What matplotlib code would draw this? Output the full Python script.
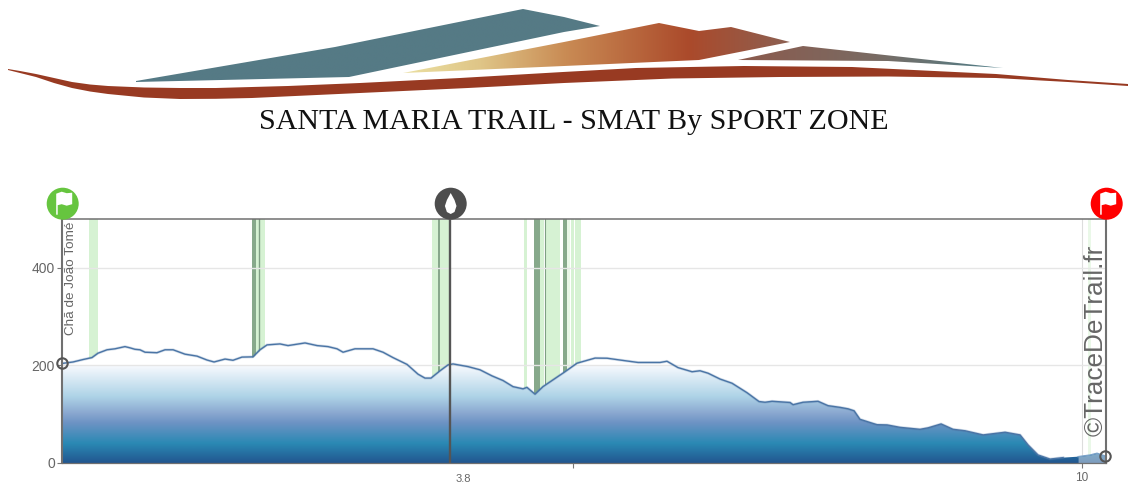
import matplotlib

matplotlib.use("Agg")
import matplotlib.pyplot as plt
import numpy as np
from matplotlib.colors import LinearSegmentedColormap
from matplotlib.patches import Circle, Polygon
from matplotlib.transforms import ScaledTranslation

plt.rcParams["font.family"] = ["Liberation Sans", "DejaVu Sans"]

# profile
distance_km = [
    0.0, 0.108, 0.206, 0.294, 0.353, 0.442, 0.52, 0.618, 0.667, 0.716, 0.765, 0.815,
    0.932, 1.011, 1.09, 1.207, 1.325, 1.423, 1.492, 1.6, 1.678, 1.766, 1.874, 1.943,
    2.012, 2.139, 2.218, 2.385, 2.503, 2.61, 2.699, 2.758, 2.875, 3.052, 3.15, 3.248,
    3.386, 3.494, 3.562, 3.621, 3.71, 3.788, 3.837, 3.984, 4.102, 4.22, 4.328, 4.426,
    4.524, 4.563, 4.642, 4.72, 4.936, 5.054, 5.231, 5.349, 5.476, 5.653, 5.869, 5.937,
    6.045, 6.183, 6.261, 6.34, 6.458, 6.575, 6.723, 6.84, 6.899, 6.968, 7.145, 7.174,
    7.272, 7.419, 7.517, 7.635, 7.714, 7.773, 7.831, 7.959, 7.998, 8.097, 8.224, 8.42,
    8.499, 8.627, 8.744, 8.862, 9.039, 9.255, 9.402, 9.48, 9.578, 9.696, 9.824, 9.971,
    10.089, 10.157, 10.236,
]
elevation_m = [
    204, 207, 212, 216, 225, 232, 234, 238.5, 236, 233, 232, 227,
    226, 232, 232, 223, 219, 211, 207, 213, 210.5, 217, 217.5, 232,
    242, 244, 240.6, 246, 240.6, 238.5, 234, 227, 234, 234, 227, 216,
    202, 182, 174, 174, 189, 201, 203, 197.5, 191, 178.5, 169, 156.5,
    152, 155, 141, 156.5, 187, 204.5, 215, 214.7, 211, 206, 206, 208.5,
    195.5, 187, 189, 184, 172, 163.5, 144, 126, 124.5, 126.5, 124, 119.5,
    124.5, 126.5, 117.5, 114, 111, 107, 89.5, 81, 78.5, 78, 73, 69,
    72, 80, 69, 66, 57.5, 63, 57.5, 37, 16.4, 8, 11, 13,
    16.4, 20, 14.4,
]

# slope bands along the course (km)
light_starts = [0.268, 1.904, 3.628, 4.529, 4.688, 4.737, 4.992, 5.034]
light_ends = [0.350, 1.992, 3.808, 4.563, 4.730, 4.887, 5.024, 5.093]
pale_starts = [4.956, 10.064]
pale_ends = [4.985, 10.093]
dark_starts = [1.867, 4.629, 4.917]
dark_ends = [1.904, 4.688, 4.956]
thin_lines = [1.936, 3.700, 4.735]
thin_widths = [1.0, 1.3, 0.8]

water_km = 3.81
x_ticks = [3.81, 5.01, 10.01]
x_tick_labels = ["3.8", "", "10"]
y_ticks = [0, 200, 400]
x_max = 10.245
y_max = 500
end_shade_km = 9.97

W, H = 1128, 483


def gradient_patch(ax, points, stops, zorder=2):
    """Polygon filled with a left to right gradient, in pixel coordinates."""
    xs = [p[0] for p in points]
    ys = [p[1] for p in points]
    poly = Polygon(points, closed=True, facecolor="none", edgecolor="none")
    ax.add_patch(poly)
    cmap = LinearSegmentedColormap.from_list("logo", stops)
    im = ax.imshow(
        np.linspace(0, 1, 256).reshape(1, -1),
        cmap=cmap,
        extent=(min(xs), max(xs), max(ys), min(ys)),
        aspect="auto",
        zorder=zorder,
        interpolation="bilinear",
    )
    im.set_clip_path(poly)


def badge(ax, cx, cy, color):
    ax.add_patch(Circle((cx, cy), 16, facecolor=color, edgecolor="none", zorder=6))


def flag(ax, cx, cy):
    points = [
        (cx - 6.5, cy - 10), (cx - 1, cy - 12), (cx + 4, cy - 10.5), (cx + 9.5, cy - 11),
        (cx + 9.5, cy + 0.5), (cx + 4, cy + 2), (cx - 1, cy + 0.5), (cx - 5, cy + 1.5),
        (cx - 5, cy + 11), (cx - 6.5, cy + 11),
    ]
    ax.add_patch(Polygon(points, closed=True, facecolor="white", edgecolor="none", zorder=7))


fig = plt.figure(figsize=(W / 100, H / 100), dpi=100, facecolor="white")
ax = fig.add_axes([62 / W, 1 - 463 / H, (1106 - 62) / W, (463 - 219) / H])

# bands go behind everything, the white fill hides them below the profile
for start, end in zip(light_starts, light_ends):
    ax.axvspan(start, end, color="#d6f2d3", lw=0, zorder=1)
for start, end in zip(pale_starts, pale_ends):
    ax.axvspan(start, end, color="#eaf8e8", lw=0, zorder=1)
for start, end in zip(dark_starts, dark_ends):
    ax.axvspan(start, end, color="#87a98b", lw=0, zorder=1.2)
for pos, width in zip(thin_lines, thin_widths):
    ax.axvline(pos, color="#7f9f84", lw=width, zorder=1.2)

area = ax.fill_between(distance_km, 0, elevation_m, color="white", lw=0, zorder=2)
profile_cmap = LinearSegmentedColormap.from_list(
    "profile",
    [
        (0.0, "#22568f"),
        (0.2, "#2a89b4"),
        (0.41, "#6d93c4"),
        (0.51, "#8aa8d0"),
        (0.68, "#aed3e7"),
        (1.0, "#f8fafe"),
    ],
)
grad = ax.imshow(
    np.linspace(0, 1, 256).reshape(-1, 1),
    cmap=profile_cmap,
    origin="lower",
    extent=(0, x_max, 0, 200),
    aspect="auto",
    zorder=3,
)
grad.set_clip_path(area.get_paths()[0], transform=ax.transData)

km = np.array(distance_km)
ele = np.array(elevation_m)
ax.fill_between(km, 0, ele, where=km >= end_shade_km, color="white", alpha=0.42, lw=0, zorder=3.2)

main = km <= end_shade_km
ax.plot(km[main], ele[main], color="#4f79a8", lw=2.0, alpha=0.25, zorder=5)
ax.plot(km[main], ele[main], color="#4a74a5", lw=1.0, zorder=5)
ax.plot(km[~main], ele[~main], color="#7ba3c9", lw=1.0, zorder=5)

ax.axhline(400, color="#e6e6e6", lw=1.0, zorder=4)
ax.axhline(200, color="#e6e6e6", lw=1.0, zorder=4)
ax.axvline(x_ticks[2], color="#dddddd", lw=0.8, zorder=1.5)
ax.axvline(water_km, color="#555555", lw=1.7, zorder=6)

ax.plot(
    [distance_km[0], distance_km[-1]],
    [elevation_m[0], elevation_m[-1]],
    "o",
    ms=7.5,
    mfc="none",
    mec="#555555",
    mew=1.5,
    clip_on=False,
    zorder=8,
)

ax.set_xlim(0, x_max)
ax.set_ylim(0, y_max)
ax.set_xticks(x_ticks)
ax.set_xticklabels(x_tick_labels, fontsize=8, color="#666666")
ax.set_yticks(y_ticks)
ax.tick_params(axis="y", labelsize=10, labelcolor="#666666", color="#777777", length=3.5, pad=1.5)
ax.tick_params(axis="x", color="#777777", length=3.5, pad=3)
ax.get_xticklines()[0].set_visible(False)
# the 3.8 label sits to the right of its tick in the original
water_label = ax.get_xticklabels()[0]
water_label.set_transform(water_label.get_transform() + ScaledTranslation(0.13, -0.02, fig.dpi_scale_trans))
ax.get_xticklabels()[2].set_fontsize(8.5)
for side, width in [("top", 1.1), ("bottom", 0.9), ("left", 1.5), ("right", 1.5)]:
    ax.spines[side].set_color("#707070")
    ax.spines[side].set_linewidth(width)
    ax.spines[side].set_zorder(6)

ax.text(0.085, 494, "Chã de João Tomé", rotation=90, ha="center", va="top",
        fontsize=9.7, color="#666666", zorder=7)
ax.text(10.145, 55, "©TraceDeTrail.fr", rotation=90, ha="center", va="bottom",
        fontsize=18.8, color="#666666", zorder=7)

# pixel space layer for the logo, title and the round badges
top = fig.add_axes([0, 0, 1, 1], facecolor="none")
top.set_xlim(0, W)
top.set_ylim(H, 0)
top.axis("off")

gradient_patch(top, [(136, 81), (335, 47), (523, 9), (564, 17), (600, 26), (564, 32), (349, 77), (136, 82)],
               ["#557a85", "#557a85"])
gradient_patch(top, [(403, 73), (564, 42), (659, 23), (699, 31), (731, 27), (790, 42), (699, 60), (564, 66)],
               [(0.0, "#ebe0a2"), (0.2, "#dfc587"), (0.42, "#c98b54"), (0.74, "#ab4a2b"), (1.0, "#8c6052")])
gradient_patch(top, [(738, 60), (803, 46), (1003, 68), (888, 61)],
               ["#8c5a4d", "#7a6a62", "#4f7f8a"])
swoosh = [
    (8, 69), (20, 71), (36, 74), (54, 78), (72, 82), (90, 84.5), (108, 86), (144, 87.5), (180, 88), (216, 88),
    (288, 86), (360, 83), (460, 78), (563, 72), (636, 68), (744, 66), (852, 67), (996, 74), (1068, 80),
    (1128, 84), (1128, 86), (1068, 82), (996, 78), (888, 76.5), (780, 77), (672, 78.5), (564, 83),
    (468, 88), (360, 93), (252, 98), (216, 98.8), (180, 99), (144, 97.5), (108, 94), (90, 91.5), (72, 88),
    (54, 83), (36, 77), (20, 73), (8, 70),
]
top.add_patch(Polygon(swoosh, closed=True, facecolor="#983a22", edgecolor="none", zorder=3))
top.set_xlim(0, W)
top.set_ylim(H, 0)

top.text(573.5, 122, "SANTA MARIA TRAIL - SMAT By SPORT ZONE", ha="center", va="center",
         family=["Liberation Serif"], fontsize=21.65, color="#111111")

badge(top, 62.7, 203.7, "#66c53f")
flag(top, 62.7, 203.7)
badge(top, 450.7, 203.7, "#4d4d4d")
drop = [(450.7, 193), (454.5, 200), (456.5, 206), (454.5, 212), (450.7, 214), (446.9, 212), (444.9, 206),
        (446.9, 200)]
top.add_patch(Polygon(drop, closed=True, facecolor="white", edgecolor="none", zorder=7))
badge(top, 1106.7, 203.7, "#ff0000")
flag(top, 1106.7, 203.7)

fig.savefig("out.png", dpi=100)
plt.close(fig)
